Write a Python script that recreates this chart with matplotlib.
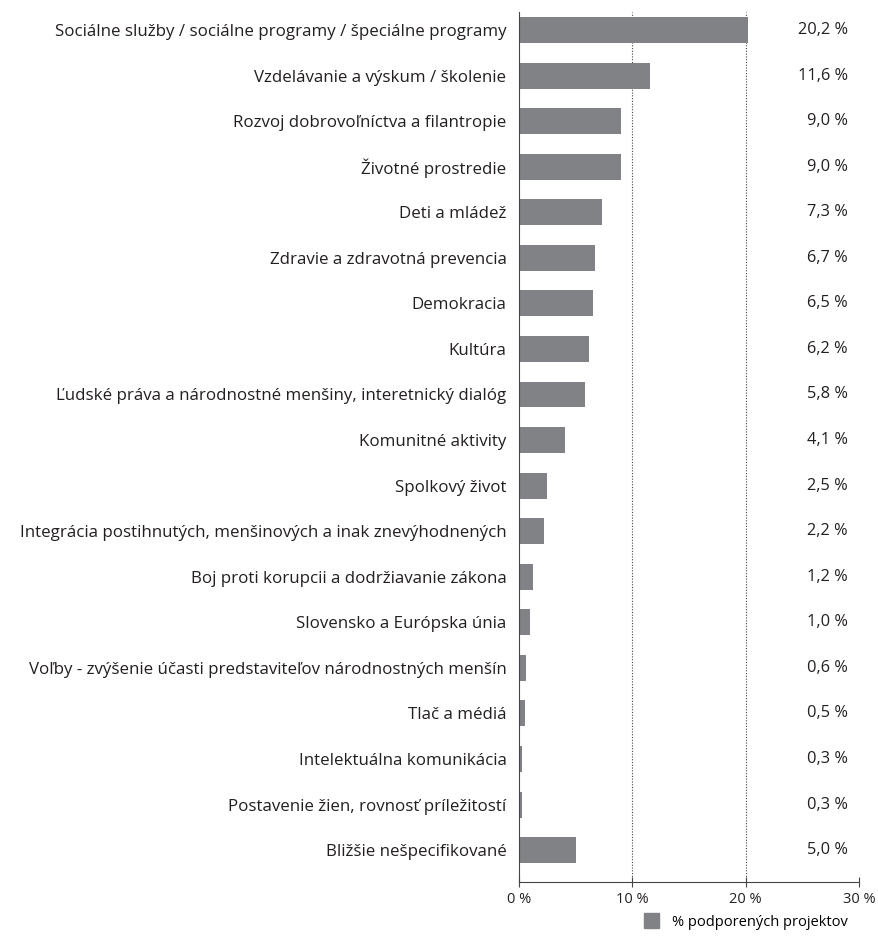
import numpy as np
import matplotlib.pyplot as plt
from matplotlib.patches import Patch

plt.rcParams['font.family'] = ['Open Sans', 'DejaVu Sans']

# ==== data ====
categories = [
    "Sociálne služby / sociálne programy / špeciálne programy",
    "Vzdelávanie a výskum / školenie",
    "Rozvoj dobrovoľníctva a filantropie",
    "Životné prostredie",
    "Deti a mládež",
    "Zdravie a zdravotná prevencia",
    "Demokracia",
    "Kultúra",
    "Ľudské práva a národnostné menšiny, interetnický dialóg",
    "Komunitné aktivity",
    "Spolkový život",
    "Integrácia postihnutých, menšinových a inak znevýhodnených",
    "Boj proti korupcii a dodržiavanie zákona",
    "Slovensko a Európska únia",
    "Voľby - zvýšenie účasti predstaviteľov národnostných menšín",
    "Tlač a médiá",
    "Intelektuálna komunikácia",
    "Postavenie žien, rovnosť príležitostí",
    "Bližšie nešpecifikované",
]
values = [20.2, 11.6, 9.0, 9.0, 7.3, 6.7, 6.5, 6.2, 5.8, 4.1, 2.5, 2.2, 1.2, 1.0, 0.6, 0.5, 0.3, 0.3, 5.0]
x_ticks = [0, 10, 20, 30]
legend_label = "% podporených projektov"

bar_color = "#808285"
text_color = "#231f20"

fig = plt.figure(figsize=(8.79, 9.38), dpi=100)
ax = fig.add_axes([0.5904, 0.0597, 0.3868, 0.9275])

y = np.arange(len(categories))
ax.barh(y, values, height=0.57, color=bar_color, zorder=2)

for xv in [10, 20]:
    ax.axvline(xv, color="#444444", linestyle=(0, (1, 1.5)), linewidth=0.8, zorder=1)

for yi, v in zip(y, values):
    ax.text(29.0, yi, f"{v:.1f} %".replace(".", ","), ha="right", va="center",
            fontsize=11.8, color=text_color)

ax.set_xlim(0, 30)
ax.set_ylim(len(categories) - 0.3, -0.395)
ax.set_yticks(y)
ax.set_yticklabels(categories, fontsize=12.2, color=text_color)
ax.tick_params(axis="y", length=0, pad=9)
ax.set_xticks(x_ticks)
ax.set_xticklabels([f"{t} %" for t in x_ticks], fontsize=10.5, color=text_color)
ax.tick_params(axis="x", direction="inout", length=7, width=0.8, color="#444444", pad=4)

for side in ["top", "right"]:
    ax.spines[side].set_visible(False)
for side in ["left", "bottom"]:
    ax.spines[side].set_color("#444444")
    ax.spines[side].set_linewidth(0.8)

ax.legend(handles=[Patch(color=bar_color, label=legend_label)], loc="upper left",
          bbox_to_anchor=(0.33, -0.021), frameon=False, fontsize=10.5,
          handlelength=1.0, handleheight=1.2, handletextpad=0.9)

fig.savefig("out.png", dpi=100)
